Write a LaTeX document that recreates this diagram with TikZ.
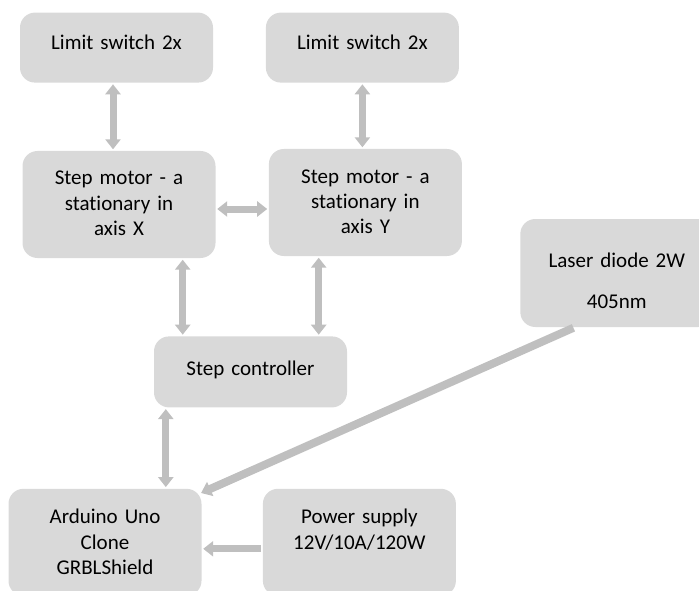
\documentclass[tikz,border=0pt]{standalone}
\usepackage{fontspec}
\setmainfont{Carlito}[Ligatures=NoCommon]
\usetikzlibrary{positioning,arrows.meta}
\definecolor{boxgray}{HTML}{D9D9D9}
\definecolor{arrowgray}{HTML}{BFBFBF}

\begin{document}
\begin{tikzpicture}[x=1pt,y=-1pt,>={Triangle[width=15pt,length=10pt]},
  blok/.style={rectangle,rounded corners=15pt,fill=boxgray,inner sep=0pt,text width=193pt,align=center,font=\fontsize{21}{25.5}\selectfont},
  link/.style={line width=7pt,draw=arrowgray,shorten <=1.5pt,shorten >=1.5pt}]
\useasboundingbox (0,0) rectangle (699,591);
\clip (0,0) rectangle (699,591);
\node[blok,text height=34pt,text depth=73pt] (mx) at (119,204.5) {Step motor - a\\stationary in\\axis X};
\node[blok,text height=37pt,text depth=33pt,above=68pt of mx,xshift=-2.5pt] (ls1) {Limit switch 2x};
\node[blok,text height=34pt,text depth=73pt,right=53pt of mx,yshift=2pt] (my) {Step motor - a\\stationary in\\axis Y};
\node[blok,text height=37pt,text depth=33pt,above=66pt of my,xshift=-3pt] (ls2) {Limit switch 2x};
\node[blok,text height=48pt,text depth=60pt,right=58pt of my,yshift=-70.5pt] (ld) {Laser diode 2W\\[16pt]405nm};
\node[blok,text height=39pt,text depth=32pt,below=78pt of mx,xshift=131.5pt] (sc) {Step controller};
\node[blok,text height=35pt,text depth=72pt,below=81pt of sc,xshift=-145.5pt] (ard) {Arduino Uno\\Clone\\GRBLShield};
\node[blok,text height=35pt,text depth=72pt,right=61pt of ard] (ps) {Power supply\\12V/10A/120W};

\draw[link,<->] ([xshift=-3.5pt]ls1.south) -- ([xshift=-3.5pt]ls1.south |- mx.north);
\draw[link,<->] (ls2.south) -- (ls2.south |- my.north);
\draw[link,<->] ([yshift=-4.5pt]mx.east) -- ([yshift=-4.5pt]mx.east -| my.west);
\draw[link,<->] ([xshift=-33pt]mx.south east) -- ([xshift=-33pt]mx.south east |- sc.north);
\draw[link,<->] ([xshift=50pt]my.south west) -- ([xshift=50pt]my.south west |- sc.north);
\draw[link,<->] ([xshift=12pt]sc.south west) -- ([xshift=12pt]sc.south west |- ard.north);
\draw[link,->,line width=8pt] ([xshift=-42pt]ld.south) -- ([xshift=-2pt,yshift=-5pt]ard.north east);
\draw[link,->] ([yshift=-6.5pt]ps.west) -- ([yshift=-6.5pt]ps.west -| ard.east);
\end{tikzpicture}
\end{document}
